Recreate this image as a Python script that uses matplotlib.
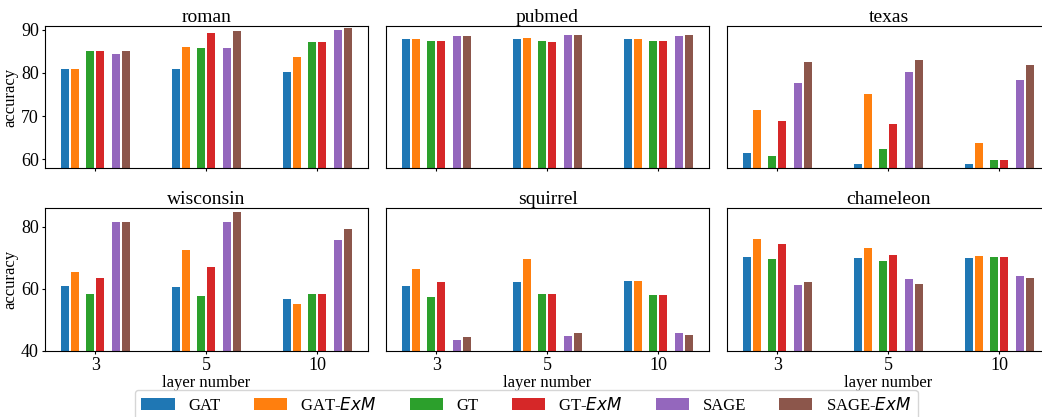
import numpy as np
import matplotlib
matplotlib.use("Agg")
import matplotlib.pyplot as plt

plt.rcParams['font.family'] = ['Liberation Serif', 'DejaVu Serif']
plt.rcParams['mathtext.fontset'] = 'dejavusans'

layers = ["3", "5", "10"]
models = ["GAT", "GAT-$ExM$", "GT", "GT-$ExM$", "SAGE", "SAGE-$ExM$"]
colors = ['#1f77b4', '#ff7f0e', '#2ca02c', '#d62728', '#9467bd', '#8c564b']

# accuracy per dataset: rows = models, cols = layer number (3, 5, 10)
roman = [[80.9, 80.9, 80.2],
         [80.9, 85.9, 83.6],
         [85.0, 85.7, 87.1],
         [85.0, 89.2, 87.1],
         [84.3, 85.7, 89.9],
         [85.0, 89.6, 90.3]]
pubmed = [[87.8, 87.8, 87.8],
          [87.8, 88.0, 87.8],
          [87.5, 87.5, 87.5],
          [87.5, 87.1, 87.5],
          [88.5, 88.7, 88.5],
          [88.5, 88.7, 88.7]]
texas = [[61.5, 58.9, 58.9],
         [71.4, 75.1, 63.8],
         [60.8, 62.4, 59.9],
         [68.9, 68.2, 59.9],
         [77.6, 80.2, 78.3],
         [82.5, 82.9, 81.8]]
wisconsin = [[60.9, 60.5, 56.7],
             [65.4, 72.5, 55.1],
             [58.3, 57.6, 58.3],
             [63.4, 67.0, 58.3],
             [81.5, 81.5, 75.7],
             [81.5, 84.7, 79.2]]
squirrel = [[60.9, 62.1, 62.5],
            [66.3, 69.6, 62.5],
            [57.3, 58.3, 58.0],
            [62.1, 58.3, 58.0],
            [43.4, 44.7, 45.7],
            [44.4, 45.7, 45.1]]
chameleon = [[70.2, 69.9, 69.9],
             [76.0, 73.1, 70.5],
             [69.6, 68.9, 70.2],
             [74.4, 70.9, 70.2],
             [61.2, 63.1, 64.1],
             [62.1, 61.5, 63.4]]

datasets = [("roman", roman), ("pubmed", pubmed), ("texas", texas),
            ("wisconsin", wisconsin), ("squirrel", squirrel), ("chameleon", chameleon)]

offsets = [-0.275, -0.185, -0.045, 0.045, 0.185, 0.275]
width = 0.072

fig, axes = plt.subplots(2, 3, figsize=(10.42, 4.17), dpi=100, sharey='row')
fig.subplots_adjust(left=0.0432, right=1.0077, bottom=0.159, top=0.938,
                    wspace=0.0557, hspace=0.283)

x = np.arange(len(layers))
for ax, (name, vals) in zip(axes.flat, datasets):
    for i, m in enumerate(models):
        ax.bar(x + offsets[i], vals[i], width, color=colors[i], label=m)
    ax.set_title(name, fontsize=14, pad=3)
    ax.set_xticks(x)
    ax.set_xlim(-0.455, 2.46)
    ax.tick_params(labelsize=13, length=2.5, pad=2)

for ax in axes[0]:
    ax.set_ylim(58, 90.9)
    ax.set_yticks([60, 70, 80, 90])
    ax.tick_params(labelbottom=False)
for ax in axes[1]:
    ax.set_ylim(40, 86)
    ax.set_yticks([40, 60, 80])
    ax.set_xticklabels(layers)
    ax.set_xlabel("layer number", fontsize=12, labelpad=1)
for ax in axes[:, 0]:
    ax.set_ylabel("accuracy", fontsize=12, labelpad=2)
for ax in axes[:, 1:].flat:
    ax.tick_params(left=False)

handles, labels = axes[0, 0].get_legend_handles_labels()
fig.legend(handles, labels, loc='lower center', bbox_to_anchor=(0.505, -0.028),
           ncol=6, fontsize=12, handlelength=2.0, handletextpad=0.8,
           columnspacing=2.0, frameon=True)

fig.savefig("out.png", dpi=100)
